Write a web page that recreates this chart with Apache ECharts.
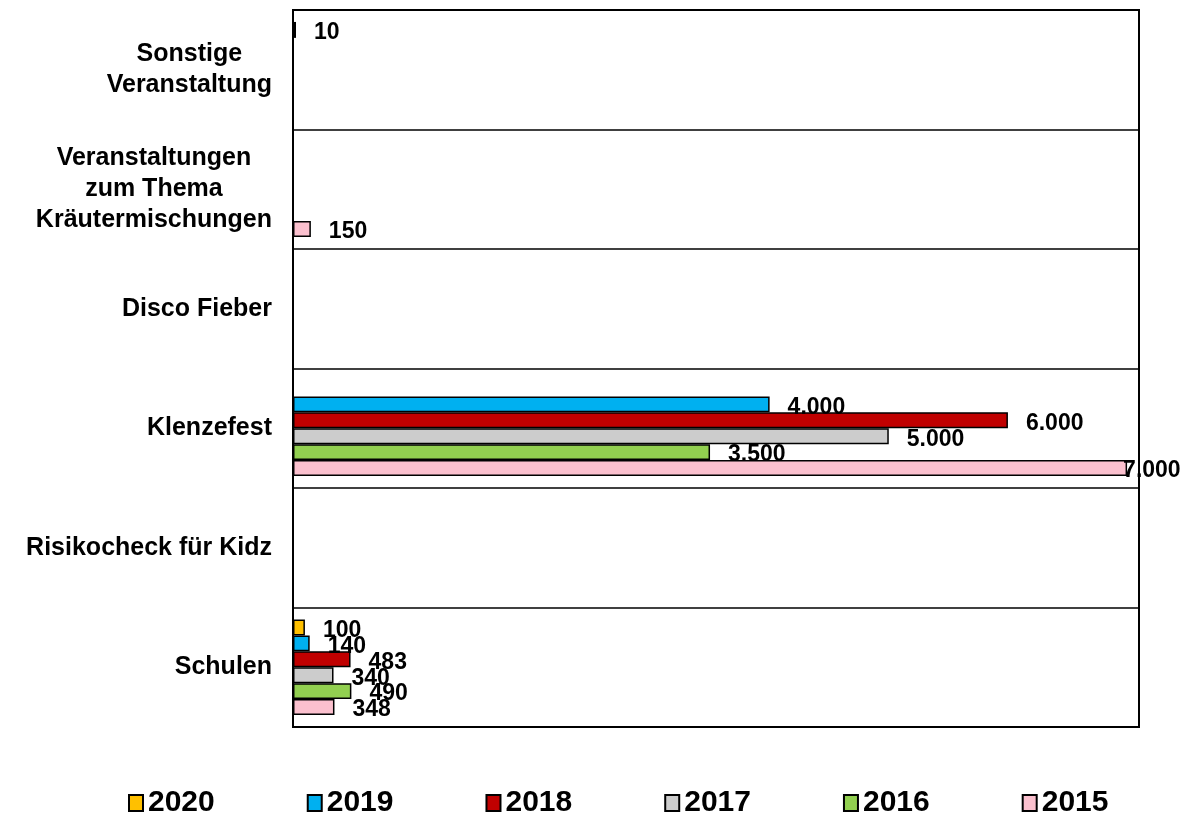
<!DOCTYPE html>
<html>
<head>
<meta charset="utf-8">
<script src="https://cdn.jsdelivr.net/npm/echarts@6/dist/echarts.min.js"></script>
<style>
  html, body { margin: 0; padding: 0; background: #fff; }
  #chart { width: 1192px; height: 825px; }
</style>
</head>
<body>
<div id="chart"></div>
<script>
// Kategorien von unten nach oben
const categories = [
  'Schulen',
  'Risikocheck für Kidz',
  'Klenzefest',
  'Disco Fieber',
  'Veranstaltungen\nzum Thema\nKräutermischungen',
  'Sonstige\nVeranstaltung'
]

// Werte je Jahr (null = kein Eintrag)
const years = ['2020', '2019', '2018', '2017', '2016', '2015']
const v2020 = [100, null, null, null, null, 10]
const v2019 = [140, null, 4000, null, null, null]
const v2018 = [483, null, 6000, null, null, null]
const v2017 = [340, null, 5000, null, null, null]
const v2016 = [490, null, 3500, null, null, null]
const v2015 = [348, null, 7000, null, 150, null]
const colors = ['#FFC000', '#00B0F0', '#C00000', '#CCCCCC', '#92D050', '#FBC0CE']

const xMax = 7100
const font = 'Liberation Sans, Arial, sans-serif'

// deutsche Tausendertrennung
function fmt (v) {
  return String(v).replace(/\B(?=(\d{3})+(?!\d))/g, '.')
}

const seriesValues = [v2020, v2019, v2018, v2017, v2016, v2015]

const series = years.map((name, i) => ({
  name: name,
  type: 'bar',
  barGap: '0%',
  barCategoryGap: '20%',
  barMinHeight: 3,
  itemStyle: { color: colors[i], borderColor: '#000', borderWidth: 1.5 },
  label: {
    show: true,
    position: 'right',
    distance: 18,
    offset: [0, 3],
    color: '#000',
    fontFamily: font,
    fontWeight: 'bold',
    fontSize: 23,
    formatter: p => fmt(p.value)
  },
  // Beschriftung am rechten Rand nach innen schieben (wie im Original)
  data: seriesValues[i].map(v => (v === xMax - 100 ? { value: v, label: { distance: -4 } } : v))
}))

const myChart = echarts.init(document.getElementById('chart'))
myChart.setOption({
  animation: false,
  grid: {
    left: 293,
    right: 53,
    top: 10,
    bottom: 98,
    show: true,
    borderColor: '#000',
    borderWidth: 2
  },
  legend: {
    data: years,
    bottom: 2,
    left: 123,
    itemGap: 92,
    itemWidth: 14,
    itemHeight: 16,
    icon: 'rect',
    textStyle: { fontFamily: font, fontWeight: 'bold', fontSize: 30, color: '#000' }
  },
  xAxis: {
    type: 'value',
    min: 0,
    max: xMax,
    axisLabel: { show: false },
    axisLine: { show: false },
    axisTick: { show: false },
    splitLine: { show: false }
  },
  yAxis: {
    type: 'category',
    data: categories,
    axisLine: { show: true, lineStyle: { color: '#000', width: 2 } },
    axisTick: { show: false },
    splitLine: { show: true, lineStyle: { color: '#000', width: 1.5 } },
    axisLabel: {
      margin: 21,
      formatter: v => v.split('\n').map(l => '{c|' + l + '}').join('\n'),
      rich: {
        c: {
          align: 'center',
          fontFamily: font,
          fontWeight: 'bold',
          fontSize: 25,
          lineHeight: 31,
          color: '#000'
        }
      }
    }
  },
  series: series
})
</script>
</body>
</html>
